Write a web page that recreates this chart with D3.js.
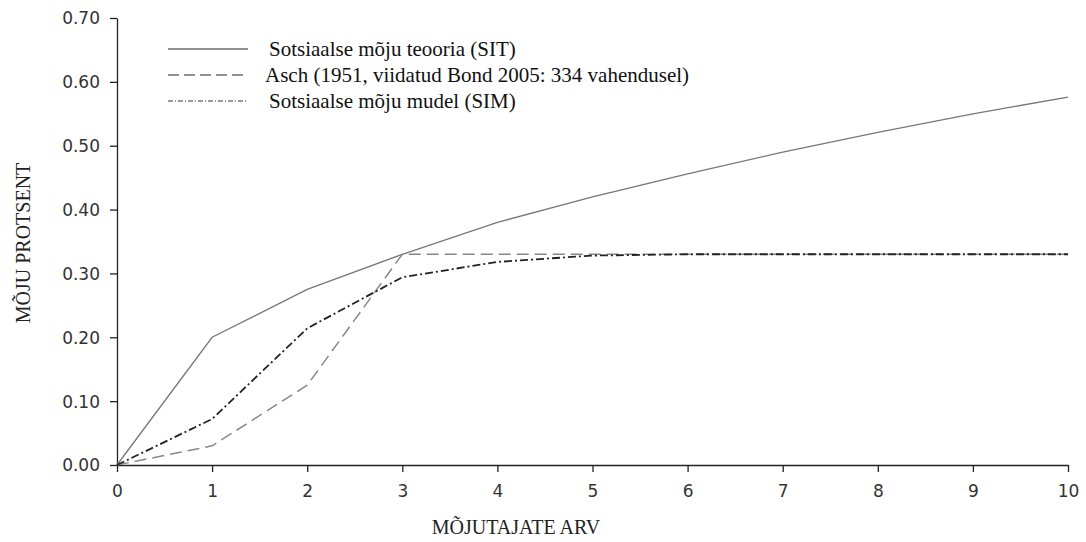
<!DOCTYPE html>
<html><head><meta charset="utf-8">
<script src="https://cdn.jsdelivr.net/npm/d3@7"></script>
<style>body{margin:0;background:#fff;}svg{display:block;}</style>
</head><body>
<svg id="c" width="1086" height="542"></svg>
<script>
const xs = [0,1,2,3,4,5,6,7,8,9,10];
const sitValues  = [0,0.200,0.275,0.330,0.380,0.420,0.456,0.490,0.521,0.550,0.576];
const aschValues = [0,0.030,0.125,0.330,0.330,0.330,0.330,0.330,0.330,0.330,0.330];
const simValues  = [0,0.072,0.214,0.294,0.318,0.328,0.330,0.330,0.330,0.330,0.330];
const yTicks = [0,0.1,0.2,0.3,0.4,0.5,0.6,0.7];
const xTicks = [0,1,2,3,4,5,6,7,8,9,10];
const legendLabels = ["Sotsiaalse mõju teooria (SIT)","Asch (1951, viidatud Bond 2005: 334 vahendusel)","Sotsiaalse mõju mudel (SIM)"];
const xTitle = "MÕJUTAJATE ARV";
const yTitle = "MÕJU PROTSENT";

const svg = d3.select("#c");
const x = d3.scaleLinear().domain([0,10]).range([117,1068]);
const y = d3.scaleLinear().domain([0,0.7]).range([465,18]);

const tickFont = "'DejaVu Sans', sans-serif";
const serif = "'Liberation Serif', 'Times New Roman', serif";

const gx = svg.append("g").attr("transform","translate(0,465)")
  .call(d3.axisBottom(x).tickValues(xTicks).tickFormat(d3.format("d")).tickSize(7).tickSizeOuter(0));
const gy = svg.append("g").attr("transform","translate(117,0)")
  .call(d3.axisLeft(y).tickValues(yTicks).tickFormat(d3.format(".2f")).tickSize(7).tickSizeOuter(0));
[gx,gy].forEach(g=>{
  g.select(".domain").attr("stroke","#222").attr("stroke-width",1.3);
  g.selectAll(".tick line").attr("stroke","#222").attr("stroke-width",1.3);
  g.selectAll(".tick text").attr("fill","#333").style("font-family",tickFont).style("font-size","17px");
});
gx.selectAll(".tick text").attr("y",20).attr("dy","0.71em");
gy.selectAll(".tick text").attr("x",-17).attr("dy","0.35em");

const series = [
  {vals: sitValues, stroke:"#777", width:1.3, dash:null},
  {vals: aschValues, stroke:"#888", width:1.5, dash:"12,6"},
  {vals: simValues, stroke:"#222", width:1.8, dash:"8,3,2,3"}
];
const line = d3.line().x((d,i)=>x(xs[i])).y(d=>y(d));
series.forEach(s=>{
  svg.append("path").datum(s.vals).attr("d",line)
    .attr("fill","none").attr("stroke",s.stroke).attr("stroke-width",s.width)
    .attr("stroke-dasharray",s.dash);
});

// legend
const leg = svg.append("g");
const legY = [49,75,101];
const legTextX = [269,265,269];
const legStyles = [
  {stroke:"#222", width:1.2, dash:null},
  {stroke:"#222", width:1.2, dash:"11,5"},
  {stroke:"#333", width:1, dash:"5,2,1,2"}
];
legendLabels.forEach((t,i)=>{
  leg.append("line").attr("x1",168).attr("x2",248).attr("y1",legY[i]).attr("y2",legY[i])
    .attr("stroke",legStyles[i].stroke).attr("stroke-width",legStyles[i].width)
    .attr("stroke-dasharray",legStyles[i].dash);
  leg.append("text").attr("x",legTextX[i]).attr("y",legY[i]).attr("dy","0.33em")
    .style("font-family",serif).style("font-size","21px").attr("fill","#111").text(t);
});

svg.append("text").attr("x",516).attr("y",534).attr("text-anchor","middle")
  .style("font-family",serif).style("font-size","20px").attr("fill","#222").text(xTitle);
svg.append("text").attr("transform","translate(30,243) rotate(-90)").attr("text-anchor","middle")
  .style("font-family",serif).style("font-size","20px").attr("fill","#222").text(yTitle);
</script>
</body></html>
